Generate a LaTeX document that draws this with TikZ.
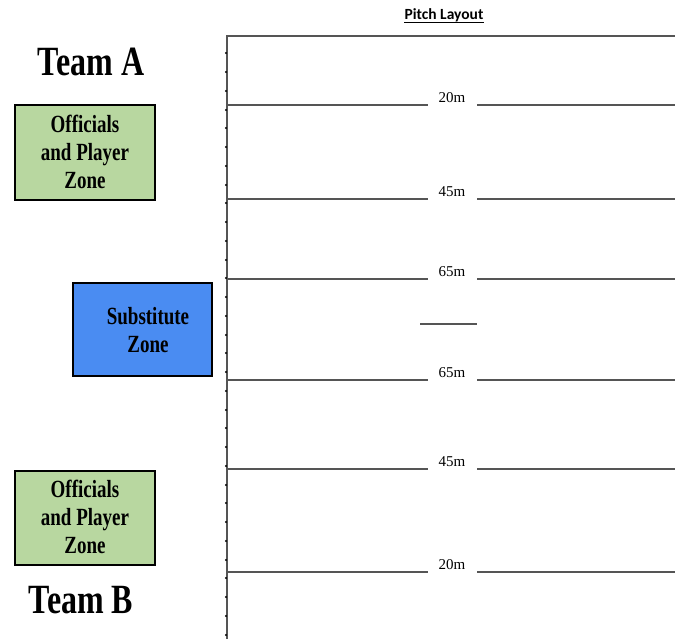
\documentclass[tikz,border=0pt]{standalone}
\usepackage{fontspec}
\setmainfont{Liberation Serif}
\newfontfamily\calib{Carlito}[BoldFont={Carlito Bold}]
\usetikzlibrary{calc}
\definecolor{zonegreen}{HTML}{B8D7A0}
\definecolor{zoneblue}{HTML}{4A8CF2}
\definecolor{linegray}{HTML}{555555}
\tikzset{
  zonebox/.style={draw=black, line width=2pt, inner sep=0pt},
  pitchline/.style={draw=linegray, line width=1.3pt},
  distlabel/.style={font=\fontsize{15}{15}\selectfont, inner sep=0pt},
  zonetext/.style={font=\bfseries\fontsize{19}{28}\selectfont, align=center, inner sep=0pt},
  teamtext/.style={font=\bfseries\fontsize{32}{32}\selectfont, inner sep=0pt},
}
\newcommand{\tall}[1]{\scalebox{1}[1.3]{#1}}
\begin{document}
\begin{tikzpicture}[x=1pt,y=-1pt]
\useasboundingbox (0,0) rectangle (675,639);
% title
\node[font=\calib\bfseries\fontsize{15.5}{15.5}\selectfont, inner sep=0pt, anchor=base] (title) at (444,20) {Pitch Layout};
\draw[line width=0.9pt] ($(title.base west)+(0,2.5)$) -- ($(title.base east)+(0,2.5)$);
% pitch border
\draw[pitchline] (675,36) -- (227,36) -- (227,639);
\foreach \yy in {53,72,91,110,128,147,166,185,203,222,241,260,278,297,316,335,353,372,391,410,428,447,466,485,503,522,541,560,578,597,616,635}
  \fill[black] (226,\yy) circle (1.1pt);
% distance lines
\foreach \yy/\lab [count=\i] in {105/20m,199/45m,279/65m,380/65m,469/45m,572/20m}{
  \node[distlabel] (d\i) at (452,\yy-7) {\lab};
  \draw[pitchline] (227,\yy) -- (428,\yy);
  \draw[pitchline] (477,\yy) -- (675,\yy);
}
\draw[pitchline] (420,324) -- (477,324);
% teams
\node[teamtext] (teamA) at (91,62) {\tall{Team A}};
\node[teamtext] (teamB) at (81,600) {\tall{Team B}};
% zones
\path[zonebox, fill=zonegreen] (15,105) rectangle (155,200);
\node[zonetext] (zoneA) at (85,152) {\tall{Officials}\\\tall{and Player}\\\tall{Zone}};
\path[zonebox, fill=zoneblue] (73,283) rectangle (212,376);
\node[zonetext] (sub) at (148,330) {\tall{Substitute}\\\tall{Zone}};
\path[zonebox, fill=zonegreen] (15,471) rectangle (155,565);
\node[zonetext] (zoneB) at (85,517) {\tall{Officials}\\\tall{and Player}\\\tall{Zone}};
\end{tikzpicture}
\end{document}
